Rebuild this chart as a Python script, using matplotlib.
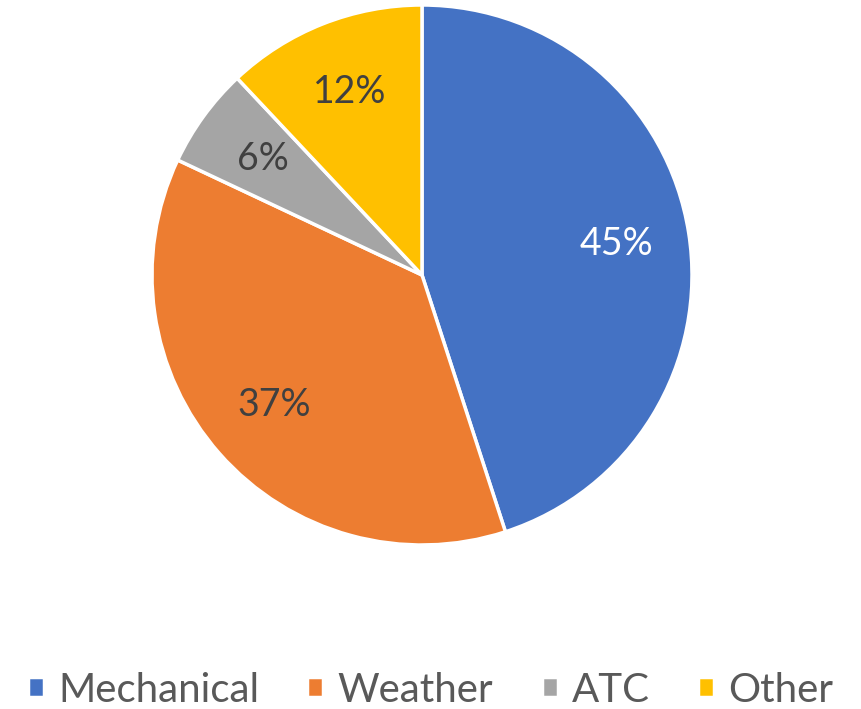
import matplotlib
matplotlib.use('Agg')
import matplotlib.pyplot as plt

# Delay causes
labels = ['Mechanical', 'Weather', 'ATC', 'Other']
shares = [45, 37, 6, 12]
colors = ['#4472C4', '#ED7D31', '#A5A5A5', '#FFC000']

plt.rcParams['font.family'] = ['Lato', 'DejaVu Sans']

fig = plt.figure(figsize=(8.61, 7.09), dpi=100)
W, H = 861, 709
cx, cy, r = 422, 275, 270
ax = fig.add_axes([(cx - r) / W, (H - cy - r) / H, 2 * r / W, 2 * r / H])

wedges, texts, autotexts = ax.pie(
    shares, colors=colors, startangle=90, counterclock=False,
    autopct='%d%%', pctdistance=0.73, radius=1,
    wedgeprops=dict(edgecolor='white', linewidth=2.5),
    textprops=dict(fontsize=27, color='#404040'))
autotexts[0].set_color('white')
ax.set_xlim(-1, 1)
ax.set_ylim(-1, 1)
ax.set_aspect('equal')

fig.legend(wedges, labels, loc='center', bbox_to_anchor=(0.5, 1 - 690 / H),
           ncol=4, frameon=False, fontsize=29, labelcolor='#595959',
           handlelength=0.4, handleheight=0.4, handletextpad=0.35,
           columnspacing=1.2)

fig.savefig('out.png', dpi=100)
